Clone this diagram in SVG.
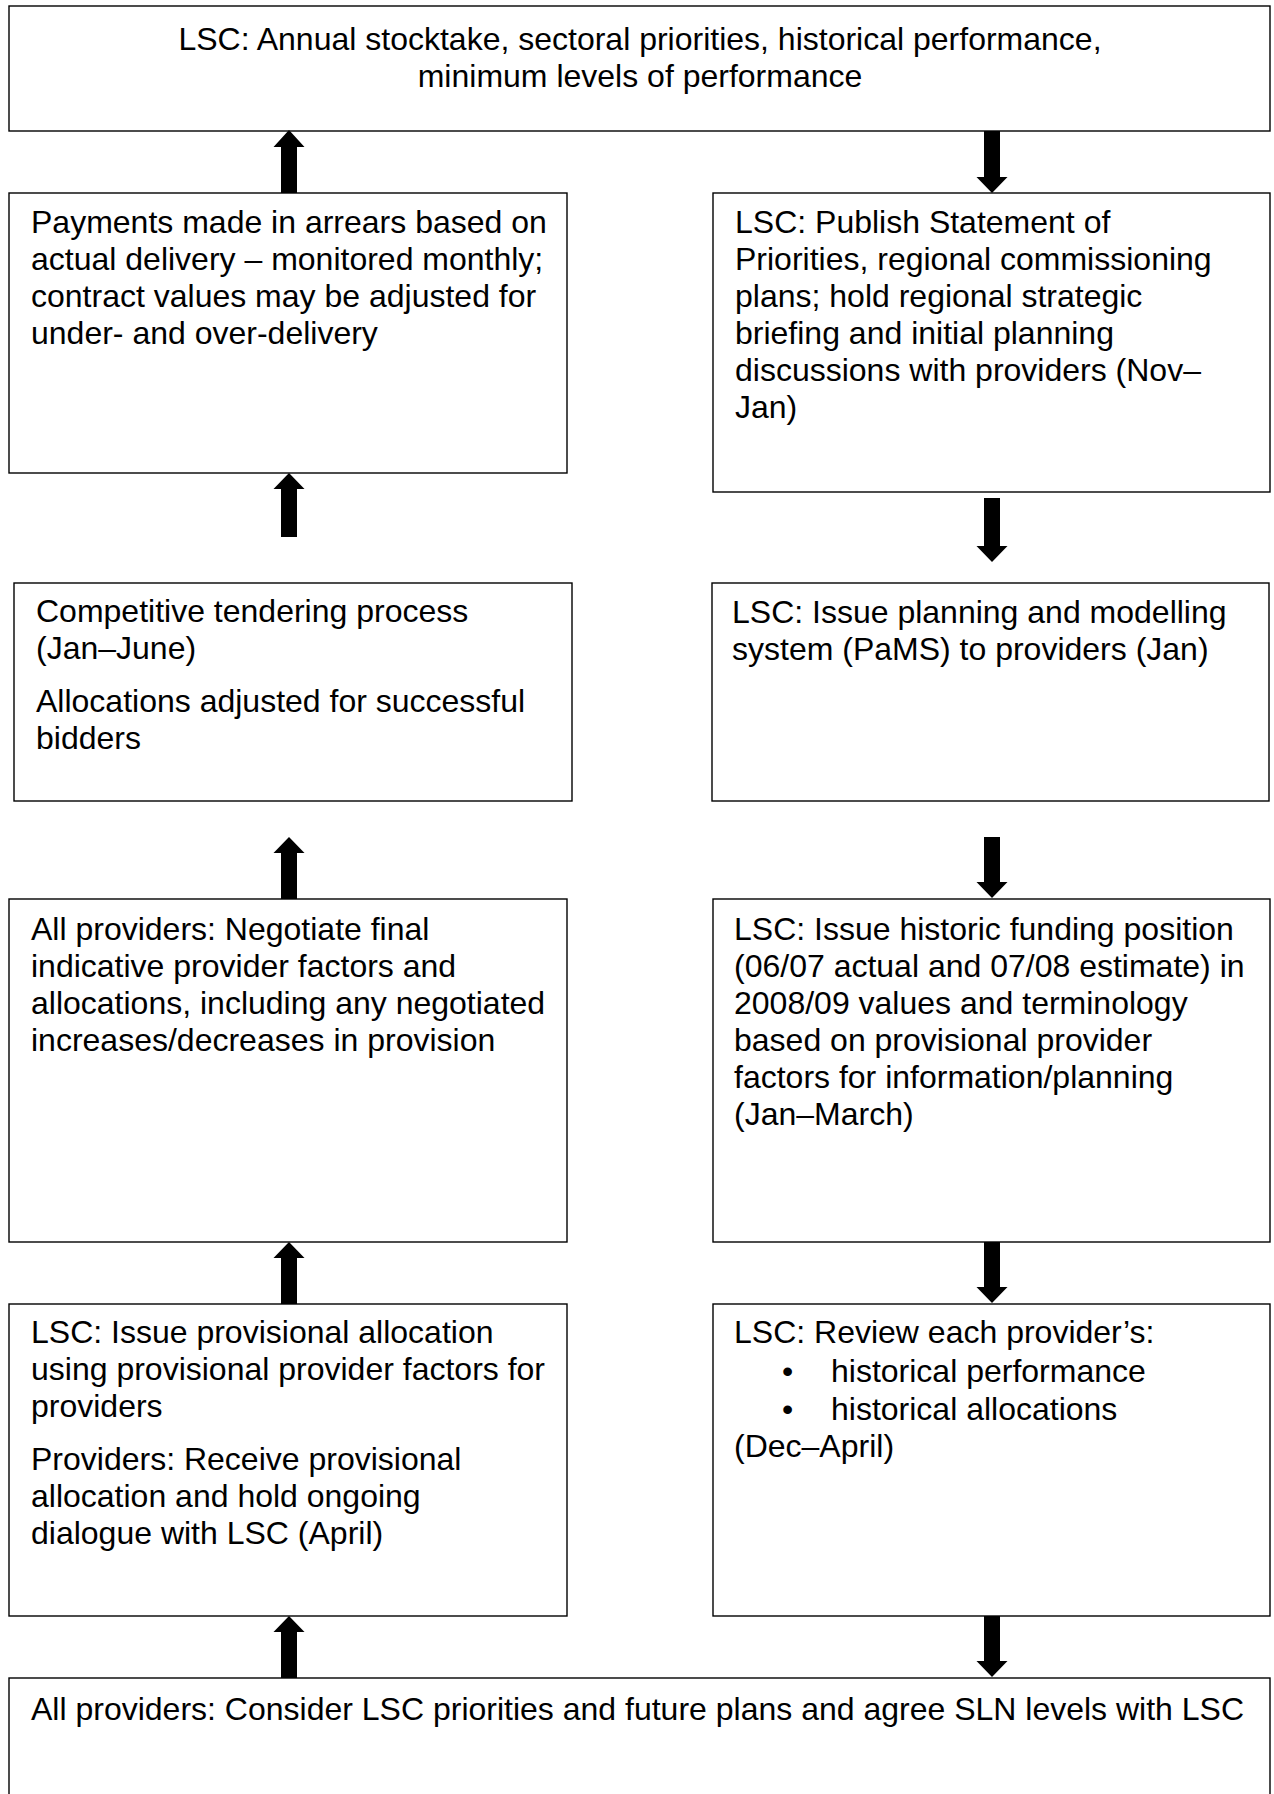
<svg xmlns="http://www.w3.org/2000/svg" width="1274" height="1794" viewBox="0 0 1274 1794">
<style>
.box{fill:#fff;stroke:#000;stroke-width:1.4}
.t{font-family:"Liberation Sans",Arial,sans-serif;font-size:32px;fill:#000}
.arr{fill:#000}
</style>
<rect width="1274" height="1794" fill="#fff"/>
<g id="n-top"><rect class="box" x="9" y="6" width="1261" height="125"/>
<text class="t" x="640" y="50" text-anchor="middle">LSC: Annual stocktake, sectoral priorities, historical performance,</text>
<text class="t" x="640" y="87" text-anchor="middle">minimum levels of performance</text></g>
<g id="n-payments"><rect class="box" x="9" y="193" width="558" height="280"/>
<text class="t" x="31" y="233">Payments made in arrears based on</text>
<text class="t" x="31" y="270">actual delivery – monitored monthly;</text>
<text class="t" x="31" y="307">contract values may be adjusted for</text>
<text class="t" x="31" y="344">under- and over-delivery</text></g>
<g id="n-publish"><rect class="box" x="713" y="193" width="557" height="299"/>
<text class="t" x="735" y="233">LSC: Publish Statement of</text>
<text class="t" x="735" y="270">Priorities, regional commissioning</text>
<text class="t" x="735" y="307">plans; hold regional strategic</text>
<text class="t" x="735" y="344">briefing and initial planning</text>
<text class="t" x="735" y="381">discussions with providers (Nov–</text>
<text class="t" x="735" y="418">Jan)</text></g>
<g id="n-tender"><rect class="box" x="14" y="583" width="558" height="218"/>
<text class="t" x="36" y="622">Competitive tendering process</text>
<text class="t" x="36" y="659">(Jan–June)</text>
<text class="t" x="36" y="712">Allocations adjusted for successful</text>
<text class="t" x="36" y="749">bidders</text></g>
<g id="n-pams"><rect class="box" x="712" y="583" width="557" height="218"/>
<text class="t" x="732" y="623">LSC: Issue planning and modelling</text>
<text class="t" x="732" y="660">system (PaMS) to providers (Jan)</text></g>
<g id="n-negotiate"><rect class="box" x="9" y="899" width="558" height="343"/>
<text class="t" x="31" y="940">All providers: Negotiate final</text>
<text class="t" x="31" y="977">indicative provider factors and</text>
<text class="t" x="31" y="1014">allocations, including any negotiated</text>
<text class="t" x="31" y="1051">increases/decreases in provision</text></g>
<g id="n-historic"><rect class="box" x="713" y="899" width="557" height="343"/>
<text class="t" x="734" y="940">LSC: Issue historic funding position</text>
<text class="t" x="734" y="977">(06/07 actual and 07/08 estimate) in</text>
<text class="t" x="734" y="1014">2008/09 values and terminology</text>
<text class="t" x="734" y="1051">based on provisional provider</text>
<text class="t" x="734" y="1088">factors for information/planning</text>
<text class="t" x="734" y="1125">(Jan–March)</text></g>
<g id="n-provisional"><rect class="box" x="9" y="1304" width="558" height="312"/>
<text class="t" x="31" y="1343">LSC: Issue provisional allocation</text>
<text class="t" x="31" y="1380">using provisional provider factors for</text>
<text class="t" x="31" y="1417">providers</text>
<text class="t" x="31" y="1470">Providers: Receive provisional</text>
<text class="t" x="31" y="1507">allocation and hold ongoing</text>
<text class="t" x="31" y="1544">dialogue with LSC (April)</text></g>
<g id="n-review"><rect class="box" x="713" y="1304" width="557" height="312"/>
<text class="t" x="734" y="1343">LSC: Review each provider’s:</text>
<text class="t" x="782" y="1382">•</text><text class="t" x="831" y="1382">historical performance</text>
<text class="t" x="782" y="1420">•</text><text class="t" x="831" y="1420">historical allocations</text>
<text class="t" x="734" y="1457">(Dec–April)</text></g>
<g id="n-consider"><rect class="box" x="9" y="1678" width="1261" height="130"/>
<text class="t" x="31" y="1720">All providers: Consider LSC priorities and future plans and agree SLN levels with LSC</text></g>
<g id="connectors">
<path class="arr" d="M289 130 L304.5 147 L297 147 L297 193 L281 193 L281 147 L273.5 147 Z"/>
<path class="arr" d="M289 473 L304.5 489 L297 489 L297 537 L281 537 L281 489 L273.5 489 Z"/>
<path class="arr" d="M289 837 L304.5 853 L297 853 L297 899 L281 899 L281 853 L273.5 853 Z"/>
<path class="arr" d="M289 1242 L304.5 1258 L297 1258 L297 1304 L281 1304 L281 1258 L273.5 1258 Z"/>
<path class="arr" d="M289 1616 L304.5 1632 L297 1632 L297 1678 L281 1678 L281 1632 L273.5 1632 Z"/>
<path class="arr" d="M992 193 L1007.5 177 L1000 177 L1000 131 L984 131 L984 177 L976.5 177 Z"/>
<path class="arr" d="M992 562 L1007.5 546 L1000 546 L1000 498 L984 498 L984 546 L976.5 546 Z"/>
<path class="arr" d="M992 898 L1007.5 882 L1000 882 L1000 837 L984 837 L984 882 L976.5 882 Z"/>
<path class="arr" d="M992 1303 L1007.5 1287 L1000 1287 L1000 1242 L984 1242 L984 1287 L976.5 1287 Z"/>
<path class="arr" d="M992 1677 L1007.5 1661 L1000 1661 L1000 1616 L984 1616 L984 1661 L976.5 1661 Z"/>
</g>
</svg>
